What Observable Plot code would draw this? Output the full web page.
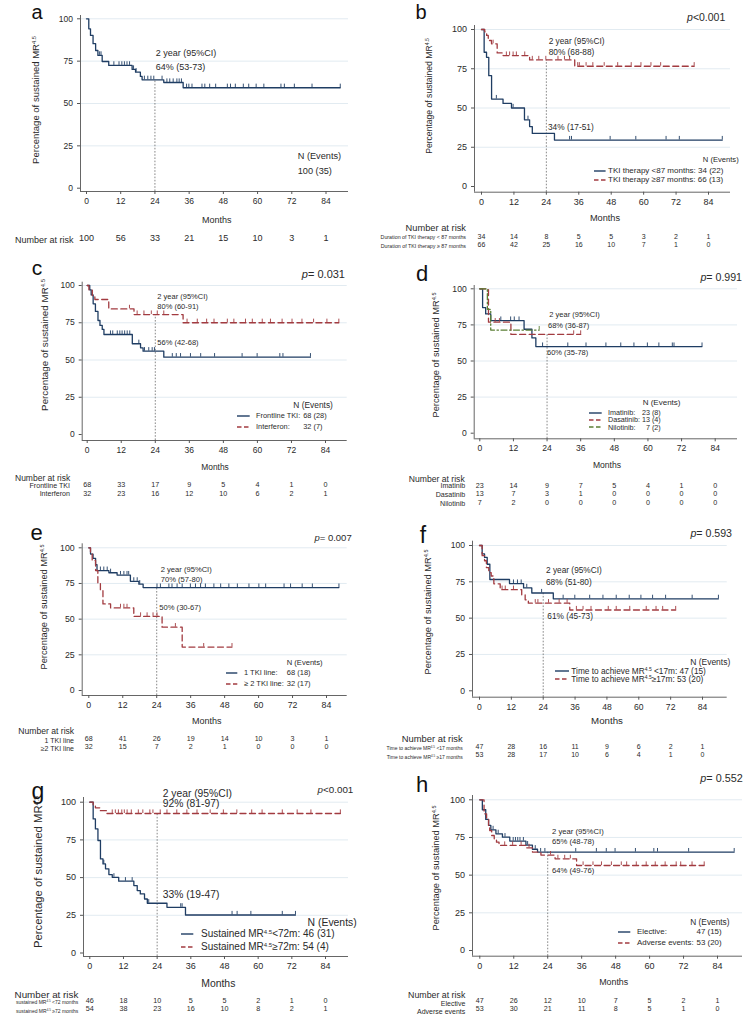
<!DOCTYPE html>
<html><head><meta charset="utf-8">
<script src="https://cdn.jsdelivr.net/npm/d3@7"></script>
<script src="https://cdn.jsdelivr.net/npm/@observablehq/plot@0.6"></script>
<style>
body{margin:0;background:#fff;}
#page{position:relative;width:744px;height:1015px;overflow:hidden;background:#fff;font-family:"Liberation Sans",Arial,sans-serif;color:#2a2a2a;}
.t{position:absolute;white-space:nowrap;line-height:1;}
sup{font-size:0.6em;vertical-align:0.55em;line-height:0;}
</style></head><body><div id="page"></div>
<script>
// ---------------- DATA ----------------
const MONTHS = [0, 12, 24, 36, 48, 60, 72, 84];
const PCT_TICKS = [0, 25, 50, 75, 100];

// a: all patients
const a1_t = [0, 0.8, 1.4, 2.3, 3.2, 4.0, 5.5, 7.8, 16.0, 17.2, 18.9, 19.5, 27.1, 33.9];
const a1_s = [100, 94.1, 90.2, 85.3, 81.3, 78.4, 74.8, 72.5, 70.1, 68.5, 66.0, 64.0, 62.4, 59.3];
const a1_end = 89;
const a1_cens = [4.6, 5.1, 9.6, 11.4, 12.4, 13.3, 14.2, 15.1, 16.5, 17.4, 20.3, 21.5, 22.6, 23.6, 26.5, 28.2, 29.2, 30.4, 31.7, 32.5, 33.3, 35.1, 35.9, 37.0, 40.5, 41.5, 43.2, 45.3, 49.4, 50.5, 52.2, 55.0, 56.9, 59.5, 62.2, 68.2, 69.4, 72.9, 79.1, 89];
const a_risk = [[100, 56, 33, 21, 15, 10, 3, 1]];
const a_legend = ["100 (35)"];

// b: duration of TKI therapy
const b1_t = [0, 0.98, 1.86, 2.69, 3.73, 7.97, 11.1, 15.9, 17.8, 18.8, 27.0];
const b1_s = [100, 85.5, 82.3, 70.6, 55.7, 52.9, 50.0, 42.5, 38.2, 33.8, 29.6];
const b1_end = 89.1;
const b1_cens = [5.5, 11.7, 17.2, 32.6, 33.3, 47.6, 57.1, 68.3, 73.2, 89.1];
const b2_t = [0, 1.2, 1.9, 2.5, 3.7, 5.8, 8.0, 17.8, 34.5];
const b2_s = [100, 98.5, 96.2, 93.0, 90.9, 85.1, 83.4, 80.6, 76.6];
const b2_end = 78.7;
const b2_cens = [4.3, 9.2, 10.4, 11.7, 12.9, 16.0, 18.8, 21.2, 23.8, 28.3, 30.7, 32.6, 35.6, 36.2, 38.7, 41.2, 45.4, 50.4, 55.4, 59.0, 62.7, 66.3, 78.7];
const b_risk = [[34, 14, 8, 5, 5, 3, 2, 1], [66, 42, 25, 16, 10, 7, 1, 0]];
const b_rows = ["Duration of TKI therapy &lt; 87 months", "Duration of TKI therapy &ge; 87 months"];
const b_legend = ["TKI therapy &lt;87 months: 34 (22)", "TKI therapy &ge;87 months: 66 (13)"];

// c: frontline TKI vs interferon
const c1_t = [0, 0.9, 1.4, 2.1, 2.9, 3.8, 4.5, 5.3, 5.9, 15.9, 18.8, 19.7, 27.0];
const c1_s = [100, 97.0, 93.7, 87.7, 82.6, 76.5, 73.2, 70.5, 67.1, 60.9, 58.2, 55.9, 51.9];
const c1_end = 78.7;
const c1_cens = [8.2, 9.0, 10.6, 11.5, 12.3, 13.2, 14.1, 15.0, 18.2, 20.2, 21.7, 22.9, 23.7, 30.0, 31.4, 32.9, 36.4, 40.0, 44.9, 54.6, 59.9, 67.9, 69.0, 78.7];
const c2_t = [0, 0.6, 1.8, 2.7, 7.6, 16.5, 33.8];
const c2_s = [100, 96.9, 93.3, 90.6, 84.3, 80.5, 75.0];
const c2_end = 88.7;
const c2_cens = [14.9, 17.6, 20.0, 22.6, 24.7, 27.0, 35.2, 38.8, 42.1, 44.7, 49.4, 51.7, 55.8, 58.2, 61.7, 64.6, 68.7, 72.2, 75.7, 79.8, 84.5, 88.7];
const c_risk = [[68, 33, 17, 9, 5, 4, 1, 0], [32, 23, 16, 12, 10, 6, 2, 1]];
const c_rows = ["Frontline TKI", "Interferon"];
const c_legend = [["Frontline TKI:", "68 (28)"], ["Interferon:", "32 (7)"]];

// d: imatinib / dasatinib / nilotinib
const d1_t = [0, 1.0, 2.1, 3.9, 15.8, 18.6, 20.0];
const d1_s = [100, 87.0, 82.6, 78.0, 72.0, 66.0, 60.0];
const d1_end = 79.3;
const d1_cens = [7.5, 11.0, 12.3, 14.0, 22.4, 31.4, 37.9, 45.0, 50.3, 55.0, 59.8, 63.9, 68.7, 69.3, 79.3];
const d2_t = [0, 3.1, 11.1];
const d2_s = [100, 76.9, 68.4];
const d2_end = 36;
const d2_cens = [5.5, 7.0, 33.5, 36];
const d3_t = [0, 2.7, 3.9];
const d3_s = [100, 85.7, 71.4];
const d3_end = 21.2;
const d3_cens = [21.2];
const d_risk = [[23, 14, 9, 7, 5, 4, 1, 0], [13, 7, 3, 1, 0, 0, 0, 0], [7, 2, 0, 0, 0, 0, 0, 0]];
const d_rows = ["Imatinib", "Dasatinib", "Nilotinib"];
const d_legend = [["Imatinib:", "23 (8)"], ["Dasatinib:", "13 (4)"], ["Nilotinib:", "7 (2)"]];

// e: number of TKI lines
const e1_t = [0, 0.6, 1.5, 2.4, 2.9, 7.1, 10.0, 14.7, 17.7, 19.2];
const e1_s = [100, 95.6, 92.6, 88.2, 84.0, 82.5, 80.9, 76.5, 74.5, 72.1];
const e1_end = 88.4;
const e1_cens = [4.1, 5.3, 6.5, 7.7, 11.2, 12.4, 13.5, 14.1, 15.9, 17.1, 18.0, 24.1, 25.3, 28.3, 29.4, 31.2, 33.0, 35.9, 37.7, 39.5, 41.2, 44.2, 46.6, 49.5, 52.5, 56.6, 60.1, 62.5, 69.0, 71.3, 75.4, 79.0, 88.4];
const e2_t = [0, 0.6, 1.2, 2.4, 3.2, 4.1, 5.0, 7.7, 15.9, 25.9, 33.0];
const e2_s = [100, 95.8, 91.1, 84.1, 74.8, 70.1, 60.7, 57.9, 51.9, 44.4, 30.4];
const e2_end = 50.6;
const e2_cens = [11.2, 12.4, 13.5, 18.3, 20.6, 22.7, 24.1, 30.6, 40.6, 50.6];
const e_risk = [[68, 41, 26, 19, 14, 10, 3, 1], [32, 15, 7, 2, 1, 0, 0, 0]];
const e_rows = ["1 TKI line", "&ge;2 TKI line"];
const e_legend = [["1 TKI line:", "68 (18)"], ["&ge; 2 TKI line:", "32 (17)"]];

// f: time to achieve MR4.5
const f1_t = [0, 1.0, 1.9, 2.9, 3.9, 11.3, 16.6, 19.7, 27.8];
const f1_s = [100, 94.2, 91.8, 87.1, 76.6, 73.8, 70.8, 67.3, 63.3];
const f1_end = 90;
const f1_cens = [12.8, 14.3, 15.7, 17.8, 23.4, 31.5, 35.9, 41.5, 46.5, 51.5, 56.4, 60.8, 65.2, 70.1, 80.1, 90];
const f2_t = [0, 1.0, 1.9, 2.6, 3.5, 4.4, 5.4, 7.8, 15.9, 17.2, 18.4, 34.0];
const f2_s = [100, 93.0, 89.5, 84.8, 81.3, 79.0, 73.6, 69.6, 66.1, 62.6, 60.3, 55.6];
const f2_end = 73.9;
const f2_cens = [8.5, 9.7, 12.8, 21.0, 22.0, 26.0, 30.0, 33.0, 36.5, 39.0, 42.0, 48.5, 51.5, 56.6, 62.8, 66.5, 69.0, 73.9];
const f_risk = [[47, 28, 16, 11, 9, 6, 2, 1], [53, 28, 17, 10, 6, 4, 1, 0]];
const f_rows = ["Time to achieve MR<sup>4.5</sup> &lt;17 months", "Time to achieve MR<sup>4.5</sup> &ge;17 months"];
const f_legend = ["Time to achieve MR<sup>4.5</sup> &lt;17m: 47 (15)", "Time to achieve MR<sup>4.5</sup>&ge;17m: 53 (20)"];

// g: duration of sustained MR4.5 before discontinuation
const g1_t = [0, 1.2, 2.0, 2.9, 3.8, 4.7, 5.6, 6.8, 8.0, 10.3, 15.7, 16.9, 18.0, 19.5, 20.5, 27.5, 34.1];
const g1_s = [100, 88.9, 82.3, 74.6, 62.4, 59.1, 55.8, 52.0, 50.2, 47.6, 44.7, 41.4, 39.2, 35.8, 33.0, 30.3, 25.2];
const g1_end = 73.3;
const g1_cens = [5.0, 8.6, 12.7, 15.1, 21.0, 32.4, 32.9, 50.7, 52.5, 57.4, 68.6, 73.3];
const g2_t = [0, 1.2, 2.0, 3.6, 5.9];
const g2_s = [100, 98.1, 96.3, 94.4, 92.5];
const g2_end = 89.3;
const g2_cens = [8.0, 9.1, 10.2, 11.4, 12.3, 13.3, 14.8, 17.3, 18.9, 21.4, 22.5, 25.1, 27.5, 31.0, 34.6, 38.2, 42.9, 47.6, 52.4, 57.7, 61.4, 68.6, 73.9, 78.8, 89.3];
const g_risk = [[46, 18, 10, 5, 5, 2, 1, 0], [54, 38, 23, 16, 10, 8, 2, 1]];
const g_rows = ["sustained MR<sup>4.5</sup> &lt;72 months", "sustained MR<sup>4.5</sup> &ge;72 months"];
const g_legend = ["Sustained MR<sup>4.5</sup>&lt;72m: 46 (31)", "Sustained MR<sup>4.5</sup>&ge;72m: 54 (4)"];

// h: reason for discontinuation
const h1_t = [0, 0.9, 2.1, 3.1, 3.9, 5.7, 8.0, 10.6, 16.3, 18.6, 20.4];
const h1_s = [100, 93.4, 87.0, 83.0, 80.0, 77.4, 75.2, 72.6, 69.9, 67.2, 65.3];
const h1_end = 89.9;
const h1_cens = [4.7, 6.5, 8.9, 11.8, 12.6, 13.4, 14.2, 15.4, 16.9, 19.6, 21.5, 23.0, 33.9, 41.2, 44.7, 47.8, 55.0, 61.5, 62.8, 73.8, 89.9];
const h2_t = [0, 1.5, 2.4, 3.1, 3.5, 4.2, 5.1, 5.9, 6.8, 16.3, 18.6, 21.6, 26.6, 34.2];
const h2_s = [100, 90.7, 87.4, 83.0, 79.6, 76.3, 74.1, 71.9, 69.7, 68.1, 65.3, 63.3, 60.8, 56.4];
const h2_end = 79.3;
const h2_cens = [8.8, 11.6, 14.6, 17.4, 25.0, 27.6, 30.0, 32.0, 36.5, 40.0, 43.0, 46.5, 50.0, 51.9, 55.3, 58.8, 62.0, 65.5, 69.4, 71.0, 75.0, 79.3];
const h_risk = [[47, 26, 12, 10, 7, 5, 2, 1], [53, 30, 21, 11, 8, 5, 1, 0]];
const h_rows = ["Elective", "Adverse events"];
const h_legend = [["Elective:", "47 (15)"], ["Adverse events:", "53 (20)"]];

const p_values = {b: "<i>p</i>&lt;0.001", c: "<i>p</i>= 0.031", d: "<i>p</i>= 0.991", e: "<i>p</i>= 0.007", f: "<i>p</i>= 0.593", g: "<i>p</i>&lt;0.001", h: "<i>p</i>= 0.552"};
const two_year = {
  a: ["2 year (95%CI)", "64% (53-73)"],
  b: ["2 year (95%CI)", "80% (68-88)", "34% (17-51)"],
  c: ["2 year (95%CI)", "80% (60-91)", "56% (42-68)"],
  d: ["2 year (95%CI)", "68% (36-87)", "60% (35-78)"],
  e: ["2 year (95%CI)", "70% (57-80)", "50% (30-67)"],
  f: ["2 year (95%CI)", "68% (51-80)", "61% (45-73)"],
  g: ["2 year (95%CI)", "92% (81-97)", "33% (19-47)"],
  h: ["2 year (95%CI)", "65% (48-78)", "64% (49-76)"]
};

// ---------------- STYLE / LAYOUT ----------------
const BLUE = "#1f3d63", RED = "#a23b40", GREEN = "#5b7f35";
const DASH = "6,3.5", DASHDOT = "6,2.5,1.5,2.5", LDASH = "4.5,2.5";
const TXT = "#2a2a2a", AXC = "#555", GRID = "#dfe9ef";
const FONT = '"Liberation Sans", Arial, sans-serif';
const YLAB = "Percentage of sustained MR<sup>4.5</sup>";

const S = (t, s, end, cens, color, dash) => ({t, s, end, cens, color, dash});

const panels = [
  {id: "a", series: [S(a1_t, a1_s, a1_end, a1_cens, BLUE)], risk: a_risk,
   L: {x0: 86, x84: 325.5, y0: 187.7, y100: 18.3, ax: 80, ay: 191, right: 348, top: 15, dot: 64, fs: 8.5, rfs: 9, riskY: [240]},
   letter: [37, 12, 20], ylab: [36, 100, 9.5], months: [216.7, 220, 9],
   ann: [[155.7, 52.7], [155.7, 66.7]], annFs: 9,
   riskTitle: [15, 240, 9, "start"]},
  {id: "b", series: [S(b1_t, b1_s, b1_end, b1_cens, BLUE), S(b2_t, b2_s, b2_end, b2_cens, RED, DASH)], risk: b_risk,
   L: {x0: 481, x84: 708, y0: 186, y100: 29, ax: 474, ay: 191.7, right: 730, top: 25, dot: 80.6, fs: 9, rfs: 7, riskY: [238.2, 246.7]},
   letter: [421, 12, 20], p: [725.3, 17.3, 10.5], ylab: [428.7, 95.7, 8.6], months: [605, 219, 9.2],
   ann: [[548.7, 41], [548.7, 51.7], [548, 126.7]], annFs: 8.3,
   riskTitle: [466, 229.3, 9.3, "end"], rows: b_rows, rowX: 466, rowFs: 5.3},
  {id: "c", series: [S(c1_t, c1_s, c1_end, c1_cens, BLUE), S(c2_t, c2_s, c2_end, c2_cens, RED, DASH)], risk: c_risk,
   L: {x0: 86.7, x84: 325, y0: 434, y100: 285, ax: 81.7, ay: 440, right: 346.7, top: 281.7, dot: 80.5, fs: 8.5, rfs: 7.2, riskY: [486.6, 495]},
   letter: [37, 267.5, 21], p: [345, 273.5, 11], ylab: [45, 345, 9.8], months: [215, 466.7, 8.4],
   ann: [[157.3, 296.7], [157.3, 306.7], [157.3, 343.3]], annFs: 7.5,
   riskTitle: [15, 478.4, 8.5, "start"], rows: c_rows, rowX: 70, rowFs: 7.1},
  {id: "d", series: [S(d1_t, d1_s, d1_end, d1_cens, BLUE), S(d2_t, d2_s, d2_end, d2_cens, RED, DASH), S(d3_t, d3_s, d3_end, d3_cens, GREEN, DASHDOT)], risk: d_risk,
   L: {x0: 479.3, x84: 714.7, y0: 432.7, y100: 288.3, ax: 473.7, ay: 438.3, right: 737, top: 285, dot: 68.4, fs: 8.6, rfs: 7.2, riskY: [487.4, 495.6, 504.7]},
   letter: [422, 273.5, 22], p: [742, 276.7, 10.6], ylab: [437, 355, 9.3], months: [607, 465, 8.6],
   ann: [[549.3, 315], [548, 326], [547, 352.7]], annFs: 7.5,
   riskTitle: [464.7, 479, 8.6, "end"], rows: d_rows, rowX: 465.3, rowFs: 7.1},
  {id: "e", series: [S(e1_t, e1_s, e1_end, e1_cens, BLUE), S(e2_t, e2_s, e2_end, e2_cens, RED, DASH)], risk: e_risk,
   L: {x0: 88.3, x84: 326, y0: 690, y100: 547.3, ax: 81.7, ay: 695, right: 346.7, top: 543.3, dot: 72.1, fs: 8.8, rfs: 7.1, riskY: [740, 748.3]},
   letter: [36.7, 533, 22], p: [351.7, 538, 9.5], ylab: [45, 606.7, 9.3], months: [206.7, 720.7, 9],
   ann: [[160.7, 570], [160.7, 580], [159.3, 608.3]], annFs: 7.6,
   riskTitle: [18.3, 731.4, 8.6, "start"], rows: e_rows, rowX: 74, rowFs: 7},
  {id: "f", series: [S(f1_t, f1_s, f1_end, f1_cens, BLUE), S(f2_t, f2_s, f2_end, f2_cens, RED, DASH)], risk: f_risk,
   L: {x0: 479, x84: 702, y0: 690.3, y100: 545, ax: 472, ay: 696.7, right: 726.7, top: 540.7, dot: 67.3, fs: 8.6, rfs: 7, riskY: [748.2, 756.7]},
   letter: [423, 535, 23], p: [732, 533.3, 10.6], ylab: [428.7, 611.7, 9.3], months: [607, 720.7, 9.7],
   ann: [[546, 570], [546, 581.7], [547.3, 616]], annFs: 8.3,
   riskTitle: [462.7, 739, 9.4, "end"], rows: f_rows, rowX: 462.7, rowFs: 5},
  {id: "g", series: [S(g1_t, g1_s, g1_end, g1_cens, BLUE), S(g2_t, g2_s, g2_end, g2_cens, RED, DASH)], risk: g_risk,
   L: {x0: 89.3, x84: 325, y0: 952.5, y100: 801.7, ax: 83, ay: 956, right: 348, top: 797, dot: 92.5, fs: 9, rfs: 7.2, riskY: [1002.3, 1010.7]},
   letter: [38, 791, 23], p: [353.3, 790, 9.8], ylab: [39, 871.7, 11.3], months: [218.3, 983.8, 10.4],
   ann: [[162.7, 794.3], [162.7, 804.3], [162.7, 895]], annFs: 10.3,
   riskTitle: [78.3, 994.6, 9.8, "end"], rows: g_rows, rowX: 78.3, rowFs: 5},
  {id: "h", series: [S(h1_t, h1_s, h1_end, h1_cens, BLUE), S(h2_t, h2_s, h2_end, h2_cens, RED, DASH)], risk: h_risk,
   L: {x0: 479.3, x84: 717, y0: 950, y100: 799.3, ax: 472, ay: 955.7, right: 742, top: 795, dot: 65.3, fs: 9, rfs: 7.1, riskY: [1002.7, 1010.9]},
   letter: [422, 784.5, 22], p: [742.7, 778.3, 10.8], ylab: [437, 868.3, 9.3], months: [613.7, 981.7, 8.9],
   ann: [[552, 831.7], [552, 842.3], [552, 870.7]], annFs: 7.7,
   riskTitle: [465.3, 994.6, 8.8, "end"], rows: h_rows, rowX: 465.3, rowFs: 7}
];

// legend layouts (positions only)
const legends = {
  a: {head: [297.7, 156.7, 9.2, "start"], tx: 297.7, ys: [172.3], fs: 9.2, items: a_legend},
  b: {head: [738.7, 160, 7.6, "end"], sx: [593.7, 605.3], tx: 608, ys: [171, 180], fs: 8, items: b_legend, colors: [[BLUE], [RED, LDASH]]},
  c: {head: [293.3, 405, 8.4, "start"], sx: [237.3, 250], tx: 256, ys: [415.7, 426.7], fs: 7.4, gap: 3, items: c_legend, colors: [[BLUE], [RED, LDASH]]},
  d: {head: [642.7, 402.7, 8, "start"], sx: [589.3, 602], tx: 608, ys: [412.7, 420, 427.3], fs: 7.2, gap: 2, valRight: true, items: d_legend, colors: [[BLUE], [RED, LDASH], [GREEN, LDASH]]},
  e: {head: [286.7, 663.3, 7.6, "start"], sx: [226, 237.3], tx: 244, ys: [672.7, 684], fs: 7.5, gap: 3, items: e_legend, colors: [[BLUE], [RED, LDASH]]},
  f: {head: [730.3, 662.3, 8.5, "end"], sx: [554.7, 568.7], tx: 571.3, ys: [670.7, 679.3], fs: 8.3, items: f_legend, colors: [[BLUE], [RED, LDASH]]},
  g: {head: [356.7, 923.3, 10.4, "end"], sx: [181, 193.3], tx: 201, ys: [934.3, 946.7], fs: 10, items: g_legend, colors: [[BLUE], [RED, LDASH]]},
  h: {head: [690.3, 921.7, 8.3, "start"], sx: [618, 630.3], tx: 637, ys: [931.7, 942.7], fs: 7.9, gap: 3, items: h_legend, colors: [[BLUE], [RED, LDASH]]}
};

// ---------------- RENDER ----------------
const page = document.getElementById("page");
function put(html, x, y, size, anchor = "start", extra = "") {
  const d = document.createElement("div");
  d.className = "t";
  d.innerHTML = html;
  const tx = anchor === "start" ? "0" : anchor === "middle" ? "-50%" : "-100%";
  d.style.cssText = `left:${x}px;top:${y}px;font-size:${size}px;transform:translate(${tx},-50%);${extra}`;
  page.appendChild(d);
  return d;
}
function sample(x1, x2, y, color, dash) {
  const ns = "http://www.w3.org/2000/svg";
  const s = document.createElementNS(ns, "svg");
  s.setAttribute("width", x2 - x1); s.setAttribute("height", 4);
  s.style.cssText = `position:absolute;left:${x1}px;top:${y - 2}px;overflow:visible`;
  const l = document.createElementNS(ns, "line");
  l.setAttribute("x1", 0); l.setAttribute("x2", x2 - x1); l.setAttribute("y1", 2); l.setAttribute("y2", 2);
  l.setAttribute("stroke", color); l.setAttribute("stroke-width", 1.4);
  if (dash) l.setAttribute("stroke-dasharray", dash);
  s.appendChild(l); page.appendChild(s);
}
function grid2(items, x, ys, fs, gap, valRight) {
  const step = ys.length > 1 ? ys[1] - ys[0] : fs * 1.2;
  const g = document.createElement("div");
  g.style.cssText = `position:absolute;left:${x}px;top:${ys[0] - step / 2}px;display:grid;grid-template-columns:auto auto;column-gap:${gap}px;grid-auto-rows:${step}px;align-items:center;font-size:${fs}px;line-height:1;white-space:nowrap;`;
  items.forEach(([a, b]) => {
    const s1 = document.createElement("span"); s1.innerHTML = a;
    const s2 = document.createElement("span"); s2.innerHTML = b;
    if (valRight) s2.style.textAlign = "right";
    g.appendChild(s1); g.appendChild(s2);
  });
  page.appendChild(g);
}
function survAt(c, ts, ss) {
  let v = ss[0];
  for (let i = 0; i < ts.length; i++) if (ts[i] <= c) v = ss[i];
  return v;
}

for (const P of panels) {
  const L = P.L;
  const pxPerUnit = (L.y0 - L.y100) / 100;
  const tickLen = 3.6 / pxPerUnit;
  const yAxisVal = -(L.ay - L.y0) / pxPerUnit;
  const marks = [
    Plot.gridY([25, 50, 75, 100], {stroke: GRID, strokeOpacity: 1, strokeWidth: 0.9}),
    Plot.ruleX([24], {y1: yAxisVal, y2: L.dot, stroke: "#6a6a6a", strokeWidth: 0.8, strokeDasharray: "1.6,1.6"})
  ];
  for (const s of P.series) {
    const pts = s.t.map((t, i) => ({t, s: s.s[i]}));
    pts.push({t: s.end, s: s.s[s.s.length - 1]});
    const lineOpts = {x: "t", y: "s", curve: "step-after", stroke: s.color, strokeWidth: 1.3};
    if (s.dash) lineOpts.strokeDasharray = s.dash;
    marks.push(Plot.line(pts, lineOpts));
    const cd = s.cens.map(c => ({t: c, s: survAt(c, s.t, s.s)}));
    marks.push(Plot.ruleX(cd, {x: "t", y1: "s", y2: d => d.s + tickLen, stroke: s.color, strokeWidth: 0.9}));
  }
  marks.push(Plot.ruleY([0], {dy: L.ay - L.y0, stroke: AXC, strokeWidth: 0.9}));
  marks.push(Plot.ruleX([0], {dx: L.ax - L.x0, stroke: AXC, strokeWidth: 0.9}));
  marks.push(Plot.axisX({ticks: MONTHS, tickSize: 3, tickPadding: 3.5, label: null, fontSize: L.fs, stroke: AXC, fill: TXT}));
  marks.push(Plot.axisY({ticks: PCT_TICKS, tickSize: 3, tickPadding: 4.5, label: null, fontSize: L.fs, stroke: AXC, fill: TXT}));
  P.risk.forEach((row, i) => {
    const rd = row.map((n, j) => ({m: MONTHS[j], n}));
    marks.push(Plot.text(rd, {x: "m", text: d => String(d.n), frameAnchor: "bottom", dy: L.riskY[i] - L.ay, fontSize: L.rfs, fill: TXT}));
  });
  const svg = Plot.plot({
    width: 744, height: 1015,
    marginLeft: L.ax, marginRight: 744 - L.right, marginTop: L.top, marginBottom: 1015 - L.ay,
    x: {domain: [0, 84], range: [L.x0, L.x84]},
    y: {domain: [0, 100], range: [L.y0, L.y100]},
    style: {fontFamily: FONT, color: TXT, background: "transparent", overflow: "visible"},
    marks
  });
  svg.style.position = "absolute"; svg.style.left = "0"; svg.style.top = "0";
  page.appendChild(svg);

  // texts
  put(P.id, P.letter[0], P.letter[1], P.letter[2], "middle", "color:#111;line-height:0.72;");
  if (P.p) put(p_values[P.id], P.p[0], P.p[1], P.p[2], "end");
  const yl = put(YLAB, P.ylab[0], P.ylab[1], P.ylab[2], "middle");
  yl.style.transform = "translate(-50%,-50%) rotate(-90deg)";
  put("Months", P.months[0], P.months[1], P.months[2], "middle");
  two_year[P.id].forEach((txt, i) => put(txt, P.ann[i][0], P.ann[i][1], P.annFs, "start"));
  put("Number at risk", P.riskTitle[0], P.riskTitle[1], P.riskTitle[2], P.riskTitle[3]);
  if (P.rows) P.rows.forEach((r, i) => put(r, P.rowX, L.riskY[i], P.rowFs, "end"));

  // legend
  const G = legends[P.id];
  put("N (Events)", G.head[0], G.head[1], G.head[2], G.head[3]);
  if (G.colors) G.colors.forEach((c, i) => sample(G.sx[0], G.sx[1], G.ys[i], c[0], c[1]));
  if (Array.isArray(G.items[0])) {
    grid2(G.items, G.tx, G.ys, G.fs, G.gap, G.valRight);
  } else {
    G.items.forEach((it, i) => put(it, G.tx, G.ys[i], G.fs, "start"));
  }
}
</script></body></html>
